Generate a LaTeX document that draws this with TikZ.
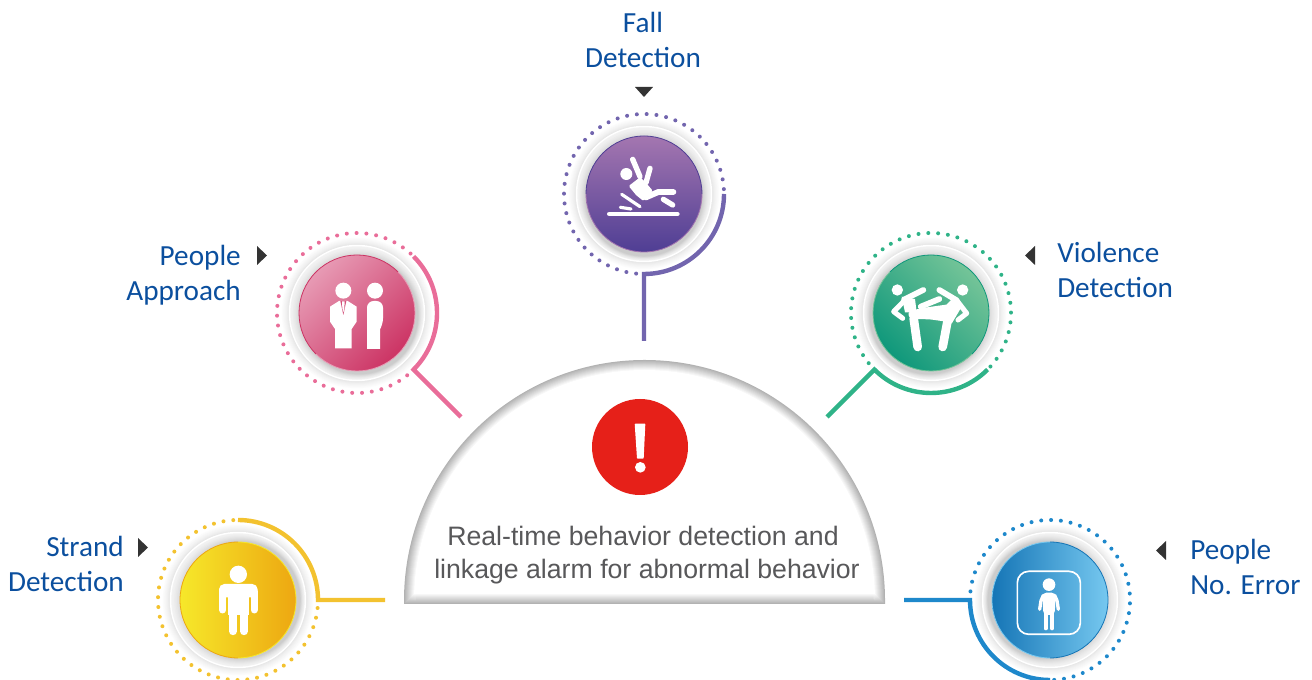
\documentclass[tikz,border=0pt]{standalone}
\usepackage{fontspec}
\setmainfont{Carlito}
\newfontfamily\centerfont{Liberation Sans}
\usetikzlibrary{calc}
\definecolor{labelblue}{HTML}{0B4F9E}
\definecolor{centertext}{HTML}{58585A}
\definecolor{triangle}{HTML}{333333}
\definecolor{alarmred}{HTML}{E62019}
\definecolor{cpurple}{HTML}{7265AE}
\definecolor{cpink}{HTML}{E96D99}
\definecolor{cgreen}{HTML}{2FB388}
\definecolor{cyellow}{HTML}{F3C22F}
\definecolor{cblue}{HTML}{1E88CB}
\definecolor{purplelight}{HTML}{A476B0}
\definecolor{purpledark}{HTML}{4F3E94}
\definecolor{pinklight}{HTML}{E79AB4}
\definecolor{pinkdark}{HTML}{CC3464}
\definecolor{greenlight}{HTML}{74C498}
\definecolor{greendark}{HTML}{0F987B}
\definecolor{yellowlight}{HTML}{F6E82A}
\definecolor{yellowdark}{HTML}{EDA711}
\definecolor{bluelight}{HTML}{76C8F0}
\definecolor{bluedark}{HTML}{1575B6}
\tikzset{
  conn/.style={line width=3.3pt,draw=#1,line join=miter,line cap=butt},
  label/.style={font=\fontsize{21.9}{26.25}\selectfont,text=labelblue,inner sep=0pt},
  icon/.style={draw=white,line cap=round,line join=round},
  tri/.style={fill=triangle},
  disc/.style n args={3}{circle,minimum size=87pt,inner sep=0pt,shade,top color=#1,bottom color=#2,shading angle=#3},
}
% name, x, y, first dot angle, dot colour, light, dark, shading angle
\newcommand\mkring[8]{%
  \foreach \k in {9,...,0}{%
    \pgfmathsetmacro\gv{0.89+0.11*(\k/9)^0.8}%
    \definecolor{ramp}{gray}{\gv}%
    \fill[ramp] (#2,#3) circle[radius={68+0.9*\k}];}%
  \foreach \k in {0,...,37}{\fill[#5] ({#2+80*cos(#4+\k*7.05)},{#3+80*sin(#4+\k*7.05)}) circle[radius=2];}%
  \fill[white] (#2,#3) circle[radius=68.2];
  \foreach \k in {0,...,8}{%
    \pgfmathsetmacro\gv{0.95-0.15*(\k/8)^1.3}%
    \definecolor{ramp}{gray}{\gv}%
    \fill[ramp] ($(#2,#3)+({#8-90}:{\k*0.45})$) circle[radius={66.7-\k}];}%
  \node[disc={#6}{#7}{#8}] (#1) at (#2,#3) {};
  \draw[line width=.6pt,#7] ($(#2,#3)+(#8:58)$) arc[start angle=#8,end angle={#8+180},radius=58];
  \draw[line width=.6pt,#6] ($(#2,#3)+({#8+180}:58)$) arc[start angle={#8+180},end angle={#8+360},radius=58];
}
\begin{document}
\begin{tikzpicture}[x=.75pt,y=.75pt]
\useasboundingbox (0,0) rectangle (1312,680);
\begin{scope}
\clip (0,0) rectangle (1312,680);

% dome
\foreach \i in {0,...,11}{
  \pgfmathsetmacro\g{min(1,0.70+0.30*(\i/10))}
  \pgfmathsetmacro\R{240.5-\i}
  \definecolor{ramp}{gray}{\g}
  \fill[ramp] ({644.5-\R},{76+\i}) -- ({644.5-\R},79.5) arc[start angle=180,end angle=0,radius=\R] -- ({644.5+\R},{76+\i}) -- cycle;
}
\node[circle,fill=alarmred,minimum size=72pt,inner sep=0pt] (alarm) at (640,233) {};
\begin{scope}[shift={(395,330)},x=.25pt,y=-.25pt]
  \fill[white,rounded corners=.5pt] (719,221) -- (751,221) -- (746,326) -- (726,326) -- cycle;
  \fill[white] (736,352) circle[radius=16];
\end{scope}
\node[font=\centerfont\fontsize{20}{24.75}\selectfont,text=centertext,align=center,inner sep=0pt] (title) at (647,124.5) {Real-time behavior detection and\hspace*{6pt}\\linkage alarm for abnormal behavior};

% rings
\mkring{fall}{644}{486}{3.5}{cpurple}{purplelight}{purpledark}{0}
\mkring{approach}{357}{367}{48}{cpink}{pinklight}{pinkdark}{45}
\mkring{violence}{931}{367}{-42}{cgreen}{greenlight}{greendark}{-45}
\mkring{strand}{238}{80}{93.4}{cyellow}{yellowlight}{yellowdark}{90}
\mkring{noerror}{1050}{80}{-87}{cblue}{bluelight}{bluedark}{-90}

% connector ends
\coordinate (fallend) at (644,339);
\coordinate (approachend) at (461,263);
\coordinate (violenceend) at (827,263);
\coordinate (strandend) at (385,80);
\coordinate (noerrorend) at (904,80);

\draw[conn=cpurple] ($(fall.center)+(80,0)$) arc[start angle=0,end angle=-90,radius=80] -- (fallend);
\draw[conn=cpink] ($(approach.center)+(45:80)$) arc[start angle=45,end angle=-45,radius=80] -- (approachend);
\draw[conn=cgreen] ($(violence.center)+(-45:80)$) arc[start angle=-45,end angle=-135,radius=80] -- (violenceend);
\draw[conn=cyellow] ($(strand.center)+(0,80)$) arc[start angle=90,end angle=0,radius=80] -- (strandend);
\draw[conn=cblue] ($(noerror.center)+(0,-80)$) arc[start angle=270,end angle=180,radius=80] -- (noerrorend);

% fall icon
\begin{scope}[shift={(550,580)},x=.25pt,y=-.25pt]
  \fill[white] (229,222) circle[radius=18];
  \draw[icon,line width=3.5pt] (178,342) -- (382,342);
  \draw[icon,line width=2.4pt] (211,322) -- (243,327);
  \draw[icon,line width=2.4pt] (215,283) -- (270,320);
  \draw[icon,line width=4pt] (248,178) -- (270,230);
  \draw[icon,line width=4pt] (300,205) -- (288,248);
  \fill[white,rounded corners=1pt] (236,258) -- (270,232) -- (285,245) -- (308,272) -- (280,303) -- (258,285) -- cycle;
  \draw[icon,line width=4.4pt] (288,292) -- (325,276) -- (370,276);
  \draw[icon,line width=4pt] (340,298) -- (368,315);
\end{scope}

% approach icon
\begin{scope}[shift={(265,455)},x=.25pt,y=-.25pt]
  \fill[white] (235,197) circle[radius=24];
  \fill[white] (330,197) circle[radius=24];
  \fill[white] (195,245) -- (222,228) -- (248,228) -- (275,245) -- (275,290) -- (260,312) -- (260,370) -- (210,370) -- (210,312) -- (195,290) -- cycle;
  \fill[pinkdark!85!white] (226,228) -- (244,228) -- (235,270) -- cycle;
  \fill[white] (231,229) -- (239,229) -- (238,250) -- (235,262) -- (232,250) -- cycle;
  \fill[white,rounded corners=5pt] (306,300) -- (306,228) -- (354,228) -- (354,300) [sharp corners] -- (345,314) -- (345,372) -- (306,372) -- cycle;
\end{scope}

% violence icon
\begin{scope}[shift={(820,455)},x=.25pt,y=-.25pt]
  \fill[white] (232,195) circle[radius=17];
  \fill[white] (428,195) circle[radius=17];
  \draw[icon,line width=4.3pt] (252,224) -- (310,195);
  \draw[icon,line width=4.3pt] (358,195) -- (410,226);
  \draw[icon,line width=3.8pt] (255,225) -- (221,260) -- (248,280);
  \draw[icon,line width=3.8pt] (410,226) -- (440,265) -- (414,285);
  \fill[white] (245,215) -- (285,222) -- (290,262) -- (255,262) -- cycle;
  \fill[white] (405,214) -- (428,240) -- (395,296) -- (368,250) -- cycle;
  \draw[icon,line width=4.3pt] (302,245) -- (358,222);
  \fill[white,rounded corners=2pt] (263,262) -- (300,250) -- (385,238) -- (392,292) -- (330,283) -- (270,282) -- cycle;
  \draw[icon,line width=6.5pt] (281,280) -- (293,366);
  \draw[icon,line width=6.5pt] (384,280) -- (368,366);
\end{scope}

% strand icon
\begin{scope}[shift={(150,170)},x=.25pt,y=-.25pt]
  \fill[white] (265,193) circle[radius=26];
  \fill[white,rounded corners=4pt] (207,262) -- (207,222) -- (323,222) -- (323,262) -- cycle;
  \draw[icon,line width=5.25pt] (218,245) -- (218,300);
  \draw[icon,line width=5.25pt] (312,245) -- (312,300);
  \fill[white] (233,235) rectangle (297,315);
  \draw[icon,line width=5.75pt] (249,305) -- (249,364);
  \draw[icon,line width=5.75pt] (282,305) -- (282,364);
\end{scope}

% no-error icon
\begin{scope}[shift={(900,170)},x=.25pt,y=-.25pt]
  \draw[draw=white,line width=1.25pt,rounded corners=8.5pt] (352,184) rectangle (541,373);
  \fill[white] (447,224) circle[radius=19];
  \fill[white,rounded corners=3pt] (427,248) -- (467,248) -- (464,315) -- (430,315) -- cycle;
  \draw[icon,line width=2.5pt] (430,256) -- (423,272) -- (419,298);
  \draw[icon,line width=2.5pt] (464,256) -- (471,272) -- (475,298);
  \draw[icon,line width=3pt] (437,305) -- (437,355);
  \draw[icon,line width=3pt] (456,305) -- (456,355);
\end{scope}

% labels
\node[label,align=center] (falllabel) at (643,640) {Fall\\Detection};
\node[label,align=right,anchor=east] (approachlabel) at (241,405) {People\\Approach};
\node[label,align=left,anchor=west] (violencelabel) at (1057,410) {Violence\\Detection};
\node[label,align=right,anchor=east] (strandlabel) at (124,116) {Strand\\Detection};
\node[label,align=left,anchor=west] (noerrorlabel) at (1190,113) {People\\No. Error};

% triangles
\fill[tri] (635,593) -- (653,593) -- (644,583) -- cycle;
\fill[tri] (257,434) -- (257,415) -- (267,424.5) -- cycle;
\fill[tri] (1035,434) -- (1035,415) -- (1025,424.5) -- cycle;
\fill[tri] (138,142) -- (138,123) -- (148,132.5) -- cycle;
\fill[tri] (1166,139) -- (1166,120) -- (1156,129.5) -- cycle;
\end{scope}
\end{tikzpicture}
\end{document}
